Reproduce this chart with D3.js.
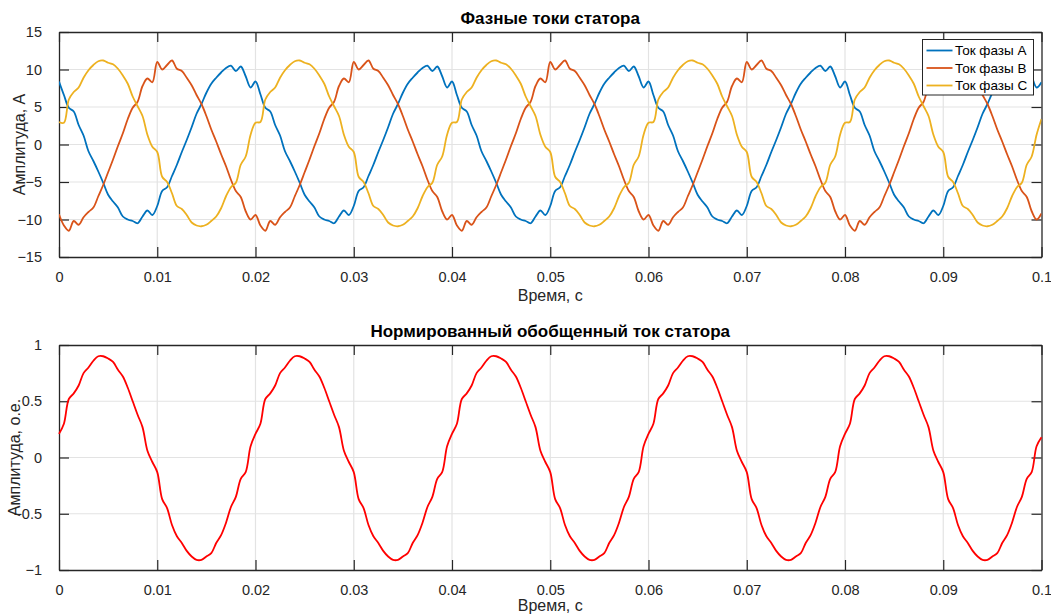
<!DOCTYPE html>
<html>
<head>
<meta charset="utf-8">
<script src="https://cdn.jsdelivr.net/npm/d3@7"></script>
<style>
  body { margin: 0; background: #fff; }
  #chart { width: 1051px; height: 615px; }
  text { font-family: "Liberation Sans", Arial, Helvetica, sans-serif; fill: #262626; }
</style>
</head>
<body>
<div id="chart"></div>
<script>
///////////////////////////// DATA /////////////////////////////////////

// sampling step of the recorded signals, seconds
const sampleStep = 0.0005;

// Ток фазы A, A  (one row per 0.02 s period)
const phaseA = [
  8.4, 6.6, 4.9, 4.4, 2.6, 1.2, -0.9, -2.2, -3.6, -5.1, -6.7, -7.6, -8.4, -9.6, -10.0, -10.2, -10.5, -9.6, -8.8, -9.4, -8.2, -6.2, -5.7, -4.2, -2.7, -1.0, 0.6, 2.3, 4.1, 5.4, 6.9, 8.1, 8.9, 9.6, 10.2, 10.5, 9.8, 10.4, 9.1, 7.6,
  8.4, 6.7, 4.9, 4.4, 2.6, 1.2, -0.9, -2.2, -3.6, -5.1, -6.7, -7.6, -8.4, -9.6, -10.0, -10.2, -10.5, -9.6, -8.8, -9.4, -8.2, -6.2, -5.7, -4.2, -2.7, -1.0, 0.6, 2.3, 4.1, 5.4, 6.9, 8.1, 8.9, 9.6, 10.2, 10.5, 9.8, 10.4, 9.1, 7.6,
  8.4, 6.6, 4.9, 4.4, 2.6, 1.2, -0.9, -2.2, -3.6, -5.1, -6.7, -7.6, -8.4, -9.6, -10.0, -10.2, -10.5, -9.6, -8.8, -9.4, -8.2, -6.2, -5.7, -4.2, -2.7, -1.0, 0.6, 2.3, 4.1, 5.4, 6.9, 8.1, 8.9, 9.6, 10.2, 10.5, 9.8, 10.4, 9.1, 7.6,
  8.4, 6.6, 4.9, 4.4, 2.6, 1.2, -0.9, -2.2, -3.6, -5.1, -6.7, -7.6, -8.4, -9.6, -10.0, -10.2, -10.5, -9.6, -8.8, -9.4, -8.2, -6.2, -5.7, -4.2, -2.7, -1.0, 0.6, 2.3, 4.1, 5.4, 6.9, 8.1, 8.9, 9.6, 10.2, 10.5, 9.8, 10.4, 9.1, 7.6,
  8.4, 6.6, 4.9, 4.4, 2.6, 1.2, -0.9, -2.2, -3.6, -5.1, -6.7, -7.6, -8.4, -9.6, -10.0, -10.2, -10.5, -9.6, -8.8, -9.4, -8.2, -6.2, -5.7, -4.2, -2.7, -1.0, 0.6, 2.3, 4.1, 5.4, 6.9, 8.1, 8.9, 9.6, 10.2, 10.5, 9.8, 10.4, 9.1, 7.6,
  8.3
];

// Ток фазы B, A
const phaseB = [
  -9.3, -10.8, -11.5, -10.2, -10.7, -9.7, -9.0, -8.4, -6.9, -5.4, -3.7, -2.0, -0.2, 1.5, 3.4, 4.9, 5.7, 7.8, 8.8, 8.3, 11.0, 10.0, 10.6, 11.2, 10.1, 9.8, 8.9, 7.9, 6.6, 5.4, 3.8, 2.0, 0.4, -1.3, -2.9, -4.7, -6.2, -7.0, -8.9, -10.0,
  -9.4, -10.8, -11.5, -10.2, -10.7, -9.7, -9.0, -8.4, -6.9, -5.4, -3.7, -2.0, -0.2, 1.5, 3.4, 4.9, 5.7, 7.8, 8.8, 8.3, 11.0, 10.0, 10.6, 11.2, 10.1, 9.8, 8.9, 7.9, 6.6, 5.4, 3.8, 2.0, 0.4, -1.3, -2.9, -4.7, -6.2, -7.0, -8.9, -10.0,
  -9.4, -10.8, -11.5, -10.2, -10.7, -9.7, -9.0, -8.4, -6.9, -5.4, -3.7, -2.0, -0.2, 1.5, 3.4, 4.9, 5.7, 7.8, 8.8, 8.3, 11.0, 10.0, 10.6, 11.2, 10.1, 9.8, 8.9, 7.9, 6.6, 5.4, 3.8, 2.0, 0.4, -1.3, -2.9, -4.7, -6.2, -7.0, -8.9, -10.0,
  -9.4, -10.8, -11.5, -10.2, -10.7, -9.7, -9.0, -8.4, -6.9, -5.4, -3.7, -2.0, -0.2, 1.5, 3.4, 4.9, 5.7, 7.8, 8.8, 8.3, 11.0, 10.0, 10.6, 11.2, 10.1, 9.8, 8.9, 7.9, 6.6, 5.4, 3.8, 2.0, 0.4, -1.3, -2.9, -4.7, -6.2, -7.0, -8.9, -10.0,
  -9.4, -10.8, -11.5, -10.2, -10.7, -9.7, -9.0, -8.4, -6.9, -5.4, -3.7, -2.0, -0.2, 1.5, 3.4, 4.9, 5.7, 7.8, 8.8, 8.3, 11.0, 10.0, 10.6, 11.2, 10.1, 9.8, 8.9, 7.9, 6.6, 5.4, 3.8, 2.0, 0.4, -1.3, -2.9, -4.7, -6.2, -7.0, -8.9, -10.0,
  -9.2
];

// Ток фазы C, A
const phaseC = [
  3.0, 2.9, 6.0, 7.0, 7.6, 8.9, 9.9, 10.6, 11.1, 11.2, 10.9, 10.7, 10.1, 9.2, 8.1, 6.4, 5.1, 3.8, 1.3, -0.3, -1.0, -4.3, -5.0, -6.5, -8.2, -8.6, -9.4, -10.4, -10.8, -10.9, -10.7, -10.2, -9.6, -8.5, -6.9, -5.7, -5.1, -2.7, -1.6, 1.3,
  2.9, 3.0, 6.0, 7.0, 7.6, 8.9, 9.9, 10.6, 11.1, 11.2, 10.9, 10.7, 10.1, 9.2, 8.1, 6.4, 5.1, 3.8, 1.3, -0.3, -1.0, -4.3, -5.0, -6.5, -8.2, -8.6, -9.4, -10.4, -10.8, -10.9, -10.7, -10.2, -9.6, -8.5, -6.9, -5.7, -5.1, -2.7, -1.6, 1.3,
  2.9, 3.0, 6.0, 7.0, 7.6, 8.9, 9.9, 10.6, 11.1, 11.2, 10.9, 10.7, 10.1, 9.2, 8.1, 6.4, 5.1, 3.8, 1.3, -0.3, -1.0, -4.3, -5.0, -6.5, -8.2, -8.6, -9.4, -10.4, -10.8, -10.9, -10.7, -10.2, -9.6, -8.5, -6.9, -5.7, -5.1, -2.7, -1.6, 1.3,
  2.9, 3.0, 6.0, 7.0, 7.6, 8.9, 9.9, 10.6, 11.1, 11.2, 10.9, 10.7, 10.1, 9.2, 8.1, 6.4, 5.1, 3.8, 1.3, -0.3, -1.0, -4.3, -5.0, -6.5, -8.2, -8.6, -9.4, -10.4, -10.8, -10.9, -10.7, -10.2, -9.6, -8.5, -6.9, -5.7, -5.1, -2.7, -1.6, 1.3,
  2.9, 3.0, 6.0, 7.0, 7.6, 8.9, 9.9, 10.6, 11.1, 11.2, 10.9, 10.7, 10.1, 9.2, 8.1, 6.4, 5.1, 3.8, 1.3, -0.3, -1.0, -4.3, -5.0, -6.5, -8.2, -8.6, -9.4, -10.4, -10.8, -10.9, -10.7, -10.2, -9.6, -8.5, -6.9, -5.7, -5.1, -2.7, -1.6, 1.3,
  3.4
];

// Нормированный обобщенный ток, о.е.
const normCurrent = [
  0.21, 0.30, 0.52, 0.57, 0.64, 0.75, 0.80, 0.86, 0.90, 0.90, 0.88, 0.85, 0.78, 0.72, 0.62, 0.50, 0.38, 0.27, 0.06, -0.04, -0.13, -0.37, -0.45, -0.60, -0.70, -0.76, -0.83, -0.88, -0.91, -0.91, -0.88, -0.85, -0.76, -0.69, -0.58, -0.44, -0.35, -0.19, -0.13, 0.10,
  0.21, 0.30, 0.52, 0.57, 0.64, 0.75, 0.80, 0.86, 0.90, 0.90, 0.88, 0.85, 0.78, 0.72, 0.62, 0.50, 0.38, 0.27, 0.06, -0.04, -0.13, -0.37, -0.45, -0.60, -0.70, -0.76, -0.83, -0.88, -0.91, -0.91, -0.88, -0.85, -0.76, -0.69, -0.58, -0.44, -0.35, -0.19, -0.13, 0.10,
  0.21, 0.30, 0.52, 0.57, 0.64, 0.75, 0.80, 0.86, 0.90, 0.90, 0.88, 0.85, 0.78, 0.72, 0.62, 0.50, 0.38, 0.27, 0.06, -0.04, -0.13, -0.37, -0.45, -0.60, -0.70, -0.76, -0.83, -0.88, -0.91, -0.91, -0.88, -0.85, -0.76, -0.69, -0.58, -0.44, -0.35, -0.19, -0.13, 0.10,
  0.21, 0.30, 0.52, 0.57, 0.64, 0.75, 0.80, 0.86, 0.90, 0.90, 0.88, 0.85, 0.78, 0.72, 0.62, 0.50, 0.38, 0.27, 0.06, -0.04, -0.13, -0.37, -0.45, -0.60, -0.70, -0.76, -0.83, -0.88, -0.91, -0.91, -0.88, -0.85, -0.76, -0.69, -0.58, -0.44, -0.35, -0.19, -0.13, 0.10,
  0.21, 0.30, 0.52, 0.57, 0.64, 0.75, 0.80, 0.86, 0.90, 0.90, 0.88, 0.85, 0.78, 0.72, 0.62, 0.50, 0.38, 0.27, 0.06, -0.04, -0.13, -0.37, -0.45, -0.60, -0.70, -0.76, -0.83, -0.88, -0.91, -0.91, -0.88, -0.85, -0.76, -0.69, -0.58, -0.44, -0.35, -0.19, -0.13, 0.10,
  0.18
];

const seriesNames = ["Ток фазы A", "Ток фазы B", "Ток фазы C"];
const seriesColors = ["#0072BD", "#D95319", "#EDB120"];

const timeTicks = [0, 0.01, 0.02, 0.03, 0.04, 0.05, 0.06, 0.07, 0.08, 0.09, 0.1];
const currentTicks = [-15, -10, -5, 0, 5, 10, 15];
const normTicks = [-1, -0.5, 0, 0.5, 1];

///////////////////////////// CHART OPTIONS /////////////////////////////////////

width = 1051;
height = 615;

axLeft = 59;
axRight = 1041.5;
tickLen = 10;
axisColor = "#262626";
gridColor = "#e3e3e3";
lineStroke = 1.8;

svg = d3.select("#chart").append("svg")
    .attr("width", width)
    .attr("height", height);

// Scale
xScale = d3.scaleLinear().domain([0, 0.1]).range([axLeft, axRight]);

function timeOf(i) { return i * sampleStep; }

function drawAxes(top, bottom, yTicks, yDomain, title, yLabel, yLabelPos, xLabelY) {
    yScale = d3.scaleLinear().domain(yDomain).range([bottom, top]);

    g = svg.append("g");

    // grid
    g.append("g").selectAll("line")
        .data(timeTicks.slice(1, -1)).enter()
        .append("line")
        .attr("x1", d => xScale(d)).attr("x2", d => xScale(d))
        .attr("y1", top).attr("y2", bottom)
        .attr("stroke", gridColor).attr("stroke-width", 1.2);
    g.append("g").selectAll("line")
        .data(yTicks.slice(1, -1)).enter()
        .append("line")
        .attr("x1", axLeft).attr("x2", axRight)
        .attr("y1", d => yScale(d)).attr("y2", d => yScale(d))
        .attr("stroke", gridColor).attr("stroke-width", 1.2);

    // axes on all four sides, ticks pointing in
    xAxisB = d3.axisBottom(xScale).tickValues(timeTicks).tickSizeInner(-tickLen).tickSizeOuter(0)
        .tickPadding(15).tickFormat(d3.format("~g"));
    xAxisT = d3.axisTop(xScale).tickValues(timeTicks).tickSizeInner(-tickLen).tickSizeOuter(0).tickFormat("");
    yAxisL = d3.axisLeft(yScale).tickValues(yTicks).tickSizeInner(-tickLen).tickSizeOuter(0)
        .tickPadding(17).tickFormat(d3.format("~g"));
    yAxisR = d3.axisRight(yScale).tickValues(yTicks).tickSizeInner(-tickLen).tickSizeOuter(0).tickFormat("");

    axes = [
        g.append("g").attr("transform", `translate(0,${bottom})`).call(xAxisB),
        g.append("g").attr("transform", `translate(0,${top})`).call(xAxisT),
        g.append("g").attr("transform", `translate(${axLeft},0)`).call(yAxisL),
        g.append("g").attr("transform", `translate(${axRight},0)`).call(yAxisR)
    ];
    axes.forEach(a => {
        a.select(".domain").attr("stroke", axisColor).attr("stroke-width", 1.3);
        a.selectAll(".tick line").attr("stroke", axisColor).attr("stroke-width", 1.2);
        a.selectAll(".tick text")
            .style("font-family", '"Liberation Sans", Arial, sans-serif')
            .style("font-size", "14.5px")
            .attr("fill", axisColor);
    });

    // title
    svg.append("text")
        .attr("x", (axLeft + axRight) / 2)
        .attr("y", top - 8)
        .attr("text-anchor", "middle")
        .style("font-size", "17px")
        .style("font-weight", "bold")
        .style("fill", "#000")
        .text(title);

    // x label
    svg.append("text")
        .attr("x", (axLeft + axRight) / 2)
        .attr("y", xLabelY)
        .attr("text-anchor", "middle")
        .style("font-size", "16px")
        .text("Время, с");

    // y label
    svg.append("text")
        .attr("transform", `translate(${yLabelPos},${(top + bottom) / 2}) rotate(-90)`)
        .attr("text-anchor", "middle")
        .style("font-size", "16px")
        .text(yLabel);

    return yScale;
}

///////////////////////////// TOP: PHASE CURRENTS /////////////////////////////////////

yTop = drawAxes(32, 257, currentTicks, [-15, 15], "Фазные токи статора", "Амплитуда, А", 25, 301);

clipTop = svg.append("clipPath").attr("id", "clipTop")
    .append("rect").attr("x", axLeft).attr("y", 32).attr("width", axRight - axLeft).attr("height", 225);

lineTop = d3.line()
    .x((d, i) => xScale(timeOf(i)))
    .y(d => yTop(d))
    .curve(d3.curveCatmullRom.alpha(0.5));

linesTop = svg.append("g").attr("clip-path", "url(#clipTop)");
[phaseA, phaseB, phaseC].forEach((values, k) => {
    linesTop.append("path")
        .attr("d", lineTop(values))
        .attr("fill", "none")
        .attr("stroke", seriesColors[k])
        .attr("stroke-width", lineStroke)
        .attr("stroke-linejoin", "round");
});

// Legend
legend = svg.append("g").attr("transform", "translate(922.5,39.5)");
legend.append("rect")
    .attr("width", 111).attr("height", 55.5)
    .attr("fill", "#fff")
    .attr("stroke", axisColor).attr("stroke-width", 1);
seriesNames.forEach((name, k) => {
    ly = 11 + k * 17.5;
    legend.append("line")
        .attr("x1", 4).attr("x2", 30)
        .attr("y1", ly).attr("y2", ly)
        .attr("stroke", seriesColors[k]).attr("stroke-width", lineStroke);
    legend.append("text")
        .attr("x", 32.5).attr("y", ly)
        .attr("dy", "0.35em")
        .style("font-size", "13.5px")
        .style("fill", "#000")
        .text(name);
});

///////////////////////////// BOTTOM: NORMALIZED CURRENT /////////////////////////////////////

yBottom = drawAxes(345, 570, normTicks, [-1, 1], "Нормированный обобщенный ток статора", "Амплитуда, о.е.", 20, 611);

lineBottom = d3.line()
    .x((d, i) => xScale(timeOf(i)))
    .y(d => yBottom(d))
    .curve(d3.curveCatmullRom.alpha(0.5));

svg.append("path")
    .attr("d", lineBottom(normCurrent))
    .attr("fill", "none")
    .attr("stroke", "#FF0000")
    .attr("stroke-width", lineStroke)
    .attr("stroke-linejoin", "round");
</script>
</body>
</html>
